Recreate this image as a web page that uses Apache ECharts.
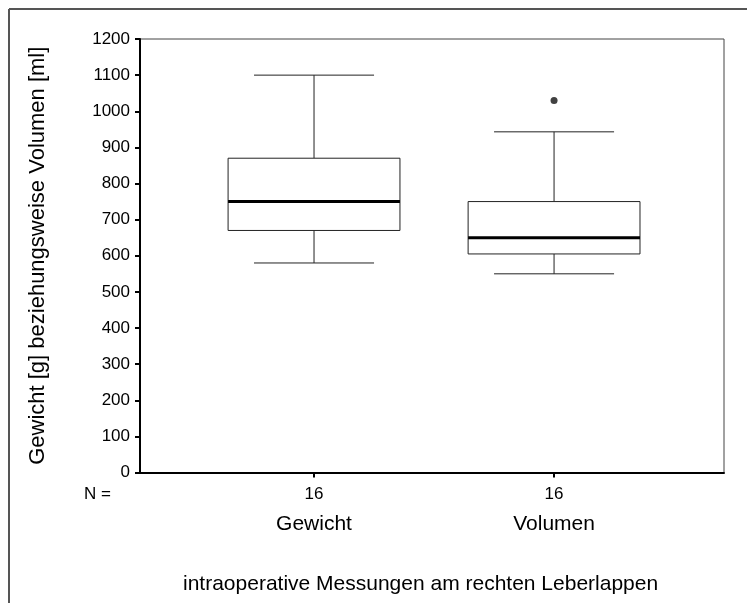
<!DOCTYPE html>
<html>
<head>
<meta charset="utf-8">
<script src="https://cdn.jsdelivr.net/npm/echarts@6/dist/echarts.min.js"></script>
<style>
  html, body { margin: 0; padding: 0; background: #fff; }
  #chart { width: 747px; height: 603px; }
</style>
</head>
<body>
<div id="chart"></div>
<script>
// Liver lobe measurements: weight vs. volume, five-number summaries
const categories = ['Gewicht', 'Volumen'];
const nCounts = [16, 16];
const lowerWhisker = [580, 550];
const quartile1 = [670, 605];
const medians = [750, 650];
const quartile3 = [870, 750];
const upperWhisker = [1100, 943];
const outlierPoints = [[2, 1030]];
const yTicks = { min: 0, max: 1200, step: 100 };

const FONT = 'Liberation Sans, Arial, sans-serif';

const boxData = categories.map((c, i) => [
  i + 1, lowerWhisker[i], quartile1[i], medians[i], quartile3[i], upperWhisker[i]
]);
const positions = categories.map((c, i) => i + 1);

function renderBox(params, api) {
  const x = api.value(0);
  const pLow = api.coord([x, api.value(1)]);
  const pQ1 = api.coord([x, api.value(2)]);
  const pMed = api.coord([x, api.value(3)]);
  const pQ3 = api.coord([x, api.value(4)]);
  const pHigh = api.coord([x, api.value(5)]);
  const halfBox = api.size([0.358, 0])[0];
  const halfCap = api.size([0.25, 0])[0];
  const cx = pMed[0];
  const lineStyle = { stroke: '#222', lineWidth: 1, fill: null };
  return {
    type: 'group',
    children: [
      { type: 'line', shape: { x1: cx, y1: pHigh[1], x2: cx, y2: pQ3[1] }, style: lineStyle },
      { type: 'line', shape: { x1: cx, y1: pQ1[1], x2: cx, y2: pLow[1] }, style: lineStyle },
      { type: 'line', shape: { x1: cx - halfCap, y1: pHigh[1], x2: cx + halfCap, y2: pHigh[1] }, style: lineStyle },
      { type: 'line', shape: { x1: cx - halfCap, y1: pLow[1], x2: cx + halfCap, y2: pLow[1] }, style: lineStyle },
      { type: 'rect', shape: { x: cx - halfBox, y: pQ3[1], width: halfBox * 2, height: pQ1[1] - pQ3[1] },
        style: { stroke: '#222', lineWidth: 1, fill: '#fff' } },
      { type: 'line', shape: { x1: cx - halfBox, y1: pMed[1], x2: cx + halfBox, y2: pMed[1] },
        style: { stroke: '#000', lineWidth: 3 } }
    ]
  };
}

const chart = echarts.init(document.getElementById('chart'), null, { renderer: 'canvas' });
chart.setOption({
  animation: false,
  backgroundColor: '#fff',
  textStyle: { fontFamily: FONT },
  grid: {
    left: 140, top: 39, width: 584, height: 433.5,
    show: true, borderColor: '#444', borderWidth: 1, backgroundColor: 'transparent'
  },
  xAxis: [
    {
      type: 'value', min: 0.275, max: 2.708,
      splitLine: { show: false },
      axisLine: { show: true, onZero: false, lineStyle: { color: '#000', width: 2 } },
      axisTick: { show: true, customValues: positions, length: 5, inside: false, lineStyle: { color: '#000', width: 2 } },
      axisLabel: {
        customValues: positions, margin: 13, color: '#000', fontSize: 17, fontFamily: FONT,
        formatter: v => String(nCounts[Math.round(v) - 1])
      }
    },
    {
      type: 'value', min: 0.275, max: 2.708, position: 'bottom', offset: 31,
      splitLine: { show: false },
      axisLine: { show: false }, axisTick: { show: false },
      axisLabel: {
        customValues: positions, margin: 10, color: '#000', fontSize: 21, fontFamily: FONT,
        formatter: v => categories[Math.round(v) - 1]
      }
    }
  ],
  yAxis: {
    type: 'value', min: yTicks.min, max: yTicks.max, interval: yTicks.step,
    splitLine: { show: false },
    axisLine: { show: true, onZero: false, lineStyle: { color: '#000', width: 2 } },
    axisTick: { show: true, length: 5, inside: false, lineStyle: { color: '#000', width: 2 } },
    axisLabel: { color: '#000', fontSize: 17, margin: 10, fontFamily: FONT, formatter: v => String(v) },
    name: 'Gewicht [g] beziehungsweise Volumen [ml]',
    nameLocation: 'middle', nameGap: 91,
    nameTextStyle: { color: '#000', fontSize: 22, fontFamily: FONT }
  },
  title: {
    text: 'intraoperative Messungen am rechten Leberlappen',
    left: 178, top: 569,
    textStyle: { color: '#000', fontSize: 21, fontWeight: 'normal', fontFamily: FONT }
  },
  graphic: [
    { type: 'line', shape: { x1: 9, y1: 9, x2: 747, y2: 9 }, style: { stroke: '#555', lineWidth: 2 } },
    { type: 'line', shape: { x1: 9, y1: 9, x2: 9, y2: 603 }, style: { stroke: '#555', lineWidth: 2 } },
    { type: 'text', left: 84, top: 486, style: { text: 'N =', fill: '#000', font: '17px ' + FONT } }
  ],
  series: [
    {
      type: 'custom', xAxisIndex: 0, renderItem: renderBox,
      encode: { x: 0, y: [1, 2, 3, 4, 5] },
      data: boxData
    },
    {
      type: 'scatter', xAxisIndex: 0, symbol: 'circle', symbolSize: 7,
      itemStyle: { color: '#111' },
      data: outlierPoints
    }
  ]
});
</script>
</body>
</html>
